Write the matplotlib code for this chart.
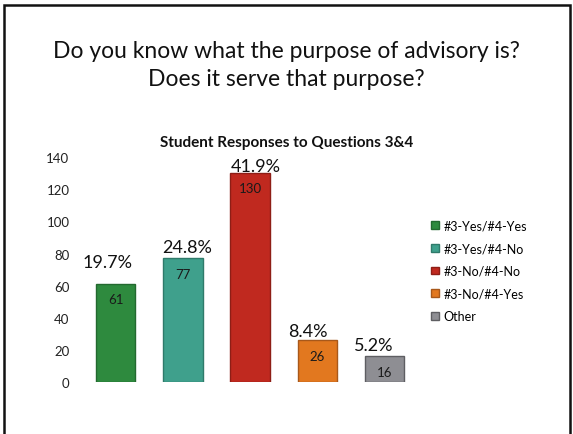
import matplotlib.pyplot as plt
from matplotlib.patches import Rectangle

plt.rcParams["font.family"] = ["Lato", "DejaVu Sans"]

TITLE = "Do you know what the purpose of advisory is?\nDoes it serve that purpose?"
SUBTITLE = "Student Responses to Questions 3&4"
categories = ["#3-Yes/#4-Yes", "#3-Yes/#4-No", "#3-No/#4-No", "#3-No/#4-Yes", "Other"]
counts = [61, 77, 130, 26, 16]
y_ticks = [0, 20, 40, 60, 80, 100, 120, 140]

colors = ["#2E8A3E", "#3FA08C", "#C0291F", "#E2781F", "#8E8E93"]
edges = ["#23692F", "#2F7A6A", "#8E1E16", "#A8581A", "#5E5E62"]
# percent label offsets in points (hand placed in the original slide)
pct_offsets = [(-6, 16), (3, 8), (4, 5), (-7, 7), (-8, 8)]


def main() -> None:
    fig = plt.figure(figsize=(5.73, 4.35), dpi=100)
    ax = fig.add_axes([0.143, 0.1195, 0.587, 0.517])

    total = sum(counts)
    x = range(len(counts))
    bars = ax.bar(x, counts, width=0.59, color=colors, edgecolor=edges,
                  linewidth=1.0, label=categories)

    for i, (b, v) in enumerate(zip(bars, counts)):
        ax.annotate(str(v), xy=(i, v), xytext=(0, -11), textcoords="offset points",
                    ha="center", va="center", fontsize=9.5, color="#1a1a1a")
        dx, dy = pct_offsets[i]
        ax.annotate(f"{100 * v / total:.1f}%", xy=(i, v), xytext=(dx, dy),
                    textcoords="offset points", ha="center", va="center",
                    fontsize=13, color="#111111")

    ax.set_xlim(-0.5, len(counts) - 0.5)
    ax.set_ylim(0, 140)
    ax.set_yticks(y_ticks)
    ax.set_xticks([])
    ax.tick_params(axis="y", length=0, pad=9, labelsize=9.5, labelcolor="#222222")
    for s in ax.spines.values():
        s.set_visible(False)

    fig.legend(handles=list(bars), labels=categories, loc="center left",
               bbox_to_anchor=(431 / 573, 0.375), frameon=False, fontsize=9,
               handlelength=0.6, handleheight=0.6, handletextpad=0.4,
               labelspacing=0.85, borderpad=0, borderaxespad=0)

    fig.text(0.5, 1 - 65.5 / 435, TITLE, ha="center", va="center",
             fontsize=16.5, color="#111111", linespacing=1.4)
    fig.text(0.5, 1 - 143 / 435, SUBTITLE, ha="center", va="center",
             fontsize=11, fontweight="bold", color="#111111")

    fig.add_artist(Rectangle((4 / 573, -0.05), 566 / 573, 1 - 6 / 435 + 0.05,
                             transform=fig.transFigure, fill=False,
                             edgecolor="#111111", linewidth=1.8))

    fig.savefig("out.png", dpi=100)


if __name__ == "__main__":
    main()
